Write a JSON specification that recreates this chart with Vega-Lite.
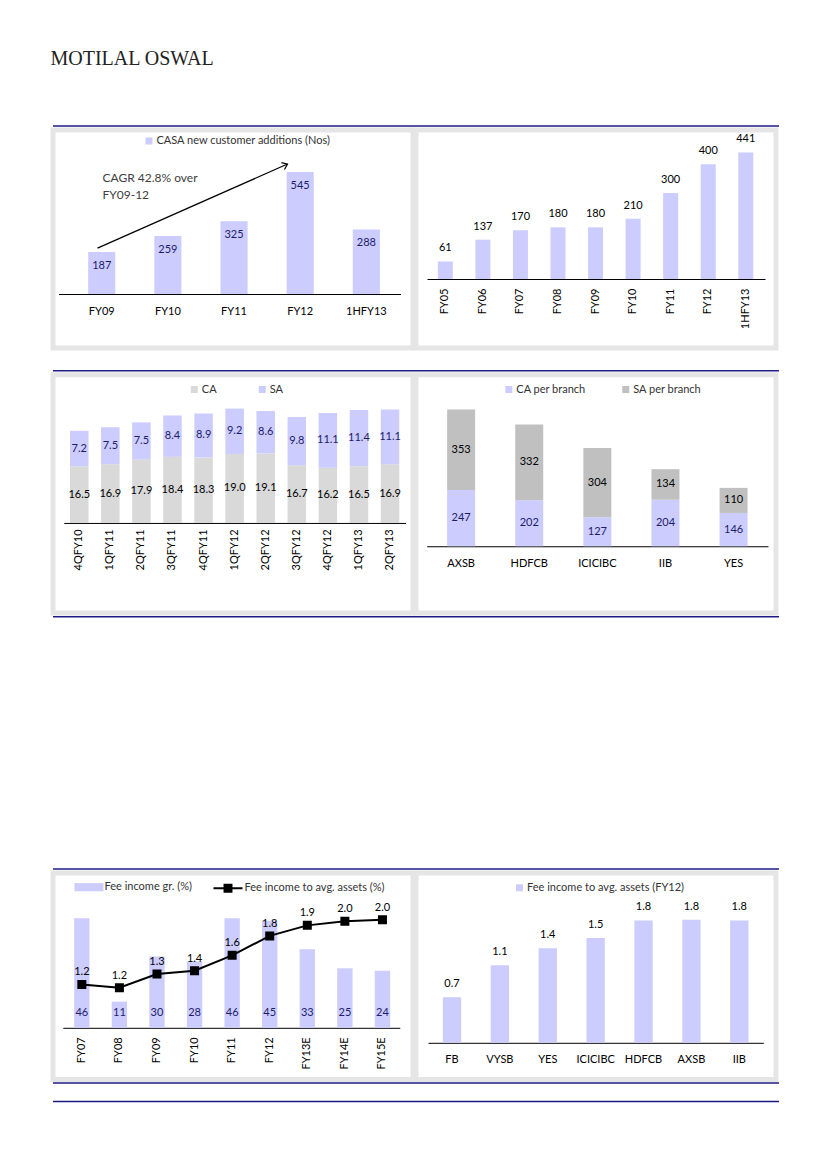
{
  "$schema": "https://vega.github.io/schema/vega-lite/v6.json",
  "background": "white",
  "padding": {"left": 50, "top": 49, "right": 0, "bottom": 0},
  "title": {"text": "MOTILAL OSWAL", "anchor": "start", "font": "Liberation Serif", "fontSize": 20, "fontWeight": "normal", "color": "#222222", "offset": 56},
  "config": {
    "font": "Lato",
    "view": {"fill": "#ffffff", "stroke": "#e5e5e5", "strokeWidth": 5},
    "axis": {"domainColor": "#000000", "domainWidth": 1, "ticks": false, "tickSize": 0, "grid": false, "labelFont": "Lato", "labelFontSize": 11, "labelColor": "#000000", "labelOverlap": false},
    "legend": {"labelFont": "Lato", "labelFontSize": 11, "labelColor": "#333333", "labelLimit": 0, "symbolType": "square", "symbolSize": 49, "symbolStrokeWidth": 0, "labelOffset": 2, "padding": 0, "rowPadding": 0, "titlePadding": 0},
    "text": {"font": "Lato"}
  },
  "resolve": {"scale": {"color": "independent", "stroke": "independent"}, "legend": {"color": "independent", "stroke": "independent"}},
  "spacing": 18.75,
  "vconcat": [
    {
      "spacing": 0,
      "resolve": {"scale": {"color": "independent", "stroke": "independent"}, "legend": {"color": "independent", "stroke": "independent"}},
      "vconcat": [
        {"width": 726, "height": 1, "view": {"fill": null, "stroke": null}, "data": {"values": [{"k": 1}]}, "mark": {"type": "rule", "color": "#1e1a85", "strokeWidth": 1.5}, "encoding": {"y": {"datum": 0, "scale": {"domain": [0, 1], "range": [0, 1], "nice": false}, "axis": null}}},
        {
          "spacing": -4,
          "resolve": {"scale": {"color": "independent", "stroke": "independent"}, "legend": {"color": "independent", "stroke": "independent"}},
          "hconcat": [
            {
              "width": 360, "height": 218,
              "layer": [
                {
                  "data": {"values": [
                    {"year": "FY09", "additions": 187},
                    {"year": "FY10", "additions": 259},
                    {"year": "FY11", "additions": 325},
                    {"year": "FY12", "additions": 545},
                    {"year": "1HFY13", "additions": 288}
                  ]},
                  "encoding": {
                    "x": {"field": "year", "type": "nominal", "sort": null, "scale": {"domain": ["FY09", "FY10", "FY11", "FY12", "1HFY13"], "range": [5.5, 347.5], "paddingInner": 0.59, "paddingOuter": 0.38, "align": 0.59}, "axis": {"title": null, "offset": -54, "labelAngle": 0, "labelPadding": 11}},
                    "y": {"field": "additions", "type": "quantitative", "scale": {"domain": [0, 732.1], "range": [164, 0], "nice": false}, "axis": null}
                  },
                  "layer": [
                    {"mark": {"type": "bar"}, "encoding": {"color": {"datum": "CASA new customer additions (Nos)", "scale": {"range": ["#ccccff"]}, "legend": {"orient": "none", "legendX": 90.5, "legendY": 5.5, "title": null}}}},
                    {"mark": {"type": "text", "baseline": "middle", "dy": 14, "color": "#1c1c6b", "fontSize": 11}, "encoding": {"text": {"field": "additions", "type": "quantitative"}}}
                  ]
                },
                {
                  "data": {"values": [{"k": 1}]},
                  "layer": [
                    {"mark": {"type": "rule", "color": "#000000", "strokeWidth": 1.2}, "encoding": {"x": {"datum": -0.063, "scale": {"domain": [-0.736, 4.706], "nice": false, "zero": false}, "axis": null}, "x2": {"datum": 2.809}, "y": {"datum": 205, "scale": {"domain": [0, 732.1], "range": [164, 0], "nice": false}, "axis": null}, "y2": {"datum": 580}}},
                    {"mark": {"type": "point", "shape": "M-1,-0.75L0,0L-1,0.75", "angle": -24, "size": 100, "filled": false, "color": "#000000", "strokeWidth": 1.2, "opacity": 1}, "encoding": {"x": {"datum": 2.809}, "y": {"datum": 580}}},
                    {"mark": {"type": "text", "align": "left", "baseline": "middle", "fontSize": 12, "color": "#404040"}, "encoding": {"x": {"datum": 0.012}, "y": {"datum": 518}, "text": {"value": "CAGR 42.8% over"}}},
                    {"mark": {"type": "text", "align": "left", "baseline": "middle", "fontSize": 12, "color": "#404040"}, "encoding": {"x": {"datum": 0.012}, "y": {"datum": 442}, "text": {"value": "FY09-12"}}}
                  ]
                }
              ],
              "resolve": {"scale": {"x": "independent", "y": "independent"}}
            },
            {
              "width": 360, "height": 218,
              "data": {"values": [
                {"year": "FY05", "customers": 61},
                {"year": "FY06", "customers": 137},
                {"year": "FY07", "customers": 170},
                {"year": "FY08", "customers": 180},
                {"year": "FY09", "customers": 180},
                {"year": "FY10", "customers": 210},
                {"year": "FY11", "customers": 300},
                {"year": "FY12", "customers": 400},
                {"year": "1HFY13", "customers": 441}
              ]},
              "encoding": {
                "x": {"field": "year", "type": "nominal", "sort": null, "scale": {"range": [11, 349], "paddingInner": 0.6, "paddingOuter": 0.3, "align": 0.48}, "axis": {"title": null, "offset": -69, "labelAngle": -90, "labelPadding": 9}},
                "y": {"field": "customers", "type": "quantitative", "scale": {"domain": [0, 519.2], "range": [149, 0], "nice": false}, "axis": null}
              },
              "layer": [
                {"mark": {"type": "bar", "color": "#ccccff"}},
                {"mark": {"type": "text", "baseline": "middle", "dy": -13, "color": "#000000", "fontSize": 11}, "encoding": {"text": {"field": "customers", "type": "quantitative"}}}
              ]
            }
          ]
        }
      ]
    },
    {
      "spacing": 250.25,
      "resolve": {"scale": {"color": "independent", "stroke": "independent"}, "legend": {"color": "independent", "stroke": "independent"}},
      "vconcat": [
        {
          "spacing": 0,
          "resolve": {"scale": {"color": "independent", "stroke": "independent"}, "legend": {"color": "independent", "stroke": "independent"}},
          "vconcat": [
            {"width": 726, "height": 1, "view": {"fill": null, "stroke": null}, "data": {"values": [{"k": 1}]}, "mark": {"type": "rule", "color": "#1e1a85", "strokeWidth": 1.5}, "encoding": {"y": {"datum": 0, "scale": {"domain": [0, 1], "range": [0, 1], "nice": false}, "axis": null}}},
            {
              "spacing": -4,
              "resolve": {"scale": {"color": "independent", "stroke": "independent"}, "legend": {"color": "independent", "stroke": "independent"}},
              "hconcat": [
                {
                  "width": 360, "height": 238.25,
                  "data": {"values": [
                    {"q": "4QFY10", "series": "CA", "value": 16.5}, {"q": "4QFY10", "series": "SA", "value": 7.2},
                    {"q": "1QFY11", "series": "CA", "value": 16.9}, {"q": "1QFY11", "series": "SA", "value": 7.5},
                    {"q": "2QFY11", "series": "CA", "value": 17.9}, {"q": "2QFY11", "series": "SA", "value": 7.5},
                    {"q": "3QFY11", "series": "CA", "value": 18.4}, {"q": "3QFY11", "series": "SA", "value": 8.4},
                    {"q": "4QFY11", "series": "CA", "value": 18.3}, {"q": "4QFY11", "series": "SA", "value": 8.9},
                    {"q": "1QFY12", "series": "CA", "value": 19.0}, {"q": "1QFY12", "series": "SA", "value": 9.2},
                    {"q": "2QFY12", "series": "CA", "value": 19.1}, {"q": "2QFY12", "series": "SA", "value": 8.6},
                    {"q": "3QFY12", "series": "CA", "value": 16.7}, {"q": "3QFY12", "series": "SA", "value": 9.8},
                    {"q": "4QFY12", "series": "CA", "value": 16.2}, {"q": "4QFY12", "series": "SA", "value": 11.1},
                    {"q": "1QFY13", "series": "CA", "value": 16.5}, {"q": "1QFY13", "series": "SA", "value": 11.4},
                    {"q": "2QFY13", "series": "CA", "value": 16.9}, {"q": "2QFY13", "series": "SA", "value": 11.1}
                  ]},
                  "encoding": {
                    "x": {"field": "q", "type": "nominal", "sort": null, "scale": {"domain": ["4QFY10", "1QFY11", "2QFY11", "3QFY11", "4QFY11", "1QFY12", "2QFY12", "3QFY12", "4QFY12", "1QFY13", "2QFY13"], "range": [10.8, 352.5], "paddingInner": 0.405, "paddingOuter": 0.2, "align": 0.5}, "axis": {"title": null, "offset": -90.05, "labelAngle": -90, "labelPadding": 6}}
                  },
                  "layer": [
                    {"mark": {"type": "bar"}, "encoding": {
                      "y": {"field": "value", "type": "quantitative", "stack": "zero", "scale": {"domain": [5, 35.06], "range": [148.2, 0], "clamp": true, "nice": false, "zero": false}, "axis": null},
                      "color": {"field": "series", "type": "nominal", "scale": {"domain": ["CA", "SA"], "range": ["#d9d9d9", "#ccccff"]}, "legend": {"orient": "none", "direction": "horizontal", "legendX": 135.8, "legendY": 9, "title": null, "columnPadding": 40}},
                      "order": {"field": "series", "sort": "ascending"}
                    }},
                    {"transform": [{"filter": {"field": "series", "equal": "CA"}}],
                     "mark": {"type": "text", "baseline": "middle", "color": "#000000", "fontSize": 11},
                     "encoding": {"y": {"field": "value", "type": "quantitative", "scale": {"domain": [5, 65.12], "range": [148.2, 0], "nice": false, "zero": false}, "axis": null}, "text": {"field": "value", "type": "quantitative", "format": ".1f"}}},
                    {"transform": [{"stack": "value", "groupby": ["q"], "sort": [{"field": "series", "order": "ascending"}], "as": ["v0", "v1"]}, {"filter": {"field": "series", "equal": "SA"}}, {"fold": ["v0", "v1"], "as": ["k", "pos"]}],
                     "mark": {"type": "text", "baseline": "middle", "color": "#1c1c6b", "fontSize": 11},
                     "encoding": {"y": {"aggregate": "mean", "field": "pos", "type": "quantitative", "scale": {"domain": [5, 35.06], "range": [148.2, 0], "nice": false, "zero": false}, "axis": null}, "text": {"field": "value", "type": "quantitative", "format": ".1f"}}}
                  ],
                  "resolve": {"scale": {"y": "independent"}}
                },
                {
                  "width": 360, "height": 238.25,
                  "data": {"values": [
                    {"bank": "AXSB", "series": "CA per branch", "value": 247}, {"bank": "AXSB", "series": "SA per branch", "value": 353},
                    {"bank": "HDFCB", "series": "CA per branch", "value": 202}, {"bank": "HDFCB", "series": "SA per branch", "value": 332},
                    {"bank": "ICICIBC", "series": "CA per branch", "value": 127}, {"bank": "ICICIBC", "series": "SA per branch", "value": 304},
                    {"bank": "IIB", "series": "CA per branch", "value": 204}, {"bank": "IIB", "series": "SA per branch", "value": 134},
                    {"bank": "YES", "series": "CA per branch", "value": 146}, {"bank": "YES", "series": "SA per branch", "value": 110}
                  ]},
                  "encoding": {
                    "x": {"field": "bank", "type": "nominal", "sort": null, "scale": {"domain": ["AXSB", "HDFCB", "ICICIBC", "IIB", "YES"], "range": [10.7, 352], "paddingInner": 0.589, "paddingOuter": 0.3, "align": 0.5}, "axis": {"title": null, "offset": -66.75, "labelAngle": 0, "labelPadding": 11}}
                  },
                  "layer": [
                    {"mark": {"type": "bar"}, "encoding": {
                      "y": {"field": "value", "type": "quantitative", "stack": "zero", "scale": {"domain": [0, 752.2], "range": [171.5, 0], "nice": false}, "axis": null},
                      "color": {"field": "series", "type": "nominal", "scale": {"domain": ["CA per branch", "SA per branch"], "range": ["#ccccff", "#c0c0c0"]}, "legend": {"orient": "none", "direction": "horizontal", "legendX": 87.3, "legendY": 9, "title": null, "columnPadding": 34}},
                      "order": {"field": "series", "sort": "ascending"}
                    }},
                    {"transform": [{"stack": "value", "groupby": ["bank"], "sort": [{"field": "series", "order": "ascending"}], "as": ["v0", "v1"]}, {"fold": ["v0", "v1"], "as": ["k", "pos"]}],
                     "mark": {"type": "text", "baseline": "middle", "fontSize": 11},
                     "encoding": {
                       "y": {"aggregate": "mean", "field": "pos", "type": "quantitative"},
                       "detail": {"field": "series", "type": "nominal"},
                       "text": {"field": "value", "type": "quantitative"},
                       "color": {"condition": {"test": "datum.series === 'CA per branch'", "value": "#1c1c6b"}, "value": "#000000"}
                     }}
                  ]
                }
              ]
            },
            {"width": 726, "height": 1, "view": {"fill": null, "stroke": null}, "data": {"values": [{"k": 1}]}, "mark": {"type": "rule", "color": "#1e1a85", "strokeWidth": 1.5}, "encoding": {"y": {"datum": 0, "scale": {"domain": [0, 1], "range": [0, 1], "nice": false}, "axis": null}}}
          ]
        },
        {
          "spacing": 16.5,
          "resolve": {"scale": {"color": "independent", "stroke": "independent"}, "legend": {"color": "independent", "stroke": "independent"}},
          "vconcat": [
            {
              "spacing": 0,
              "resolve": {"scale": {"color": "independent", "stroke": "independent"}, "legend": {"color": "independent", "stroke": "independent"}},
              "vconcat": [
                {"width": 726, "height": 1, "view": {"fill": null, "stroke": null}, "data": {"values": [{"k": 1}]}, "mark": {"type": "rule", "color": "#1e1a85", "strokeWidth": 1.5}, "encoding": {"y": {"datum": 0, "scale": {"domain": [0, 1], "range": [0, 1], "nice": false}, "axis": null}}},
                {
                  "spacing": -4,
                  "resolve": {"scale": {"color": "independent", "stroke": "independent"}, "legend": {"color": "independent", "stroke": "independent"}},
                  "hconcat": [
                    {
                      "width": 360, "height": 206.5,
                      "data": {"values": [
                        {"year": "FY07", "growth": 46, "ratio": 1.20},
                        {"year": "FY08", "growth": 11, "ratio": 1.16},
                        {"year": "FY09", "growth": 30, "ratio": 1.33},
                        {"year": "FY10", "growth": 28, "ratio": 1.37},
                        {"year": "FY11", "growth": 46, "ratio": 1.56},
                        {"year": "FY12", "growth": 45, "ratio": 1.80},
                        {"year": "FY13E", "growth": 33, "ratio": 1.93},
                        {"year": "FY14E", "growth": 25, "ratio": 1.98},
                        {"year": "FY15E", "growth": 24, "ratio": 2.00}
                      ]},
                      "encoding": {
                        "x": {"field": "year", "type": "nominal", "sort": null, "scale": {"domain": ["FY07", "FY08", "FY09", "FY10", "FY11", "FY12", "FY13E", "FY14E", "FY15E"], "range": [9.8, 346.8], "paddingInner": 0.592, "paddingOuter": 0.28, "align": 0.54}, "axis": {"title": null, "offset": -51.7, "labelAngle": -90, "labelPadding": 9}}
                      },
                      "layer": [
                        {"mark": {"type": "bar"}, "encoding": {
                          "y": {"field": "growth", "type": "quantitative", "scale": {"domain": [0, 65.04], "range": [154.8, 0], "nice": false}, "axis": null},
                          "color": {"datum": "Fee income gr. (%)", "scale": {"range": ["#ccccff"]}, "legend": {"orient": "none", "legendX": 21.5, "legendY": -0.3, "title": null, "symbolType": "M-1,-0.28H1V0.28H-1Z", "symbolSize": 841, "labelOffset": 1}}
                        }},
                        {"mark": {"type": "text", "baseline": "middle", "dy": -14.6, "color": "#1c1c6b", "fontSize": 11}, "encoding": {
                          "y": {"datum": 0, "scale": {"domain": [0, 65.04], "range": [154.8, 0], "nice": false}, "axis": null},
                          "text": {"field": "growth", "type": "quantitative"}
                        }},
                        {"mark": {"type": "line", "strokeWidth": 2, "point": {"shape": "square", "size": 49, "filled": true, "color": "#000000"}}, "encoding": {
                          "y": {"field": "ratio", "type": "quantitative", "scale": {"domain": [0.6654, 2.5765], "range": [154.8, 0], "nice": false, "zero": false}, "axis": null},
                          "stroke": {"datum": "Fee income to avg. assets (%)", "scale": {"range": ["#000000"]}, "legend": {"orient": "none", "legendX": 159.5, "legendY": -0.3, "title": null, "symbolType": "M-1,0H1M-0.24,-0.24H0.24V0.24H-0.24Z", "symbolSize": 841, "symbolStrokeWidth": 2, "symbolFillColor": "#000000", "symbolStrokeColor": "#000000", "labelOffset": 1}}
                        }},
                        {"mark": {"type": "text", "baseline": "middle", "dy": -12, "color": "#000000", "fontSize": 11}, "encoding": {
                          "y": {"field": "ratio", "type": "quantitative", "scale": {"domain": [0.6654, 2.5765], "range": [154.8, 0], "nice": false, "zero": false}, "axis": null},
                          "text": {"field": "ratio", "type": "quantitative", "format": ".1f"}
                        }}
                      ],
                      "resolve": {"scale": {"y": "independent"}}
                    },
                    {
                      "width": 360, "height": 206.5,
                      "data": {"values": [
                        {"bank": "FB", "ratio": 0.67},
                        {"bank": "VYSB", "ratio": 1.14},
                        {"bank": "YES", "ratio": 1.39},
                        {"bank": "ICICIBC", "ratio": 1.54},
                        {"bank": "HDFCB", "ratio": 1.80},
                        {"bank": "AXSB", "ratio": 1.81},
                        {"bank": "IIB", "ratio": 1.80}
                      ]},
                      "encoding": {
                        "x": {"field": "bank", "type": "nominal", "sort": null, "scale": {"domain": ["FB", "VYSB", "YES", "ICICIBC", "HDFCB", "AXSB", "IIB"], "range": [12, 347.3], "paddingInner": 0.617, "paddingOuter": 0.31, "align": 0.5}, "axis": {"title": null, "offset": -36.7, "labelAngle": 0, "labelPadding": 11}},
                        "y": {"field": "ratio", "type": "quantitative", "scale": {"domain": [0, 2.497], "range": [169.8, 0], "nice": false}, "axis": null}
                      },
                      "layer": [
                        {"mark": {"type": "bar"}, "encoding": {"color": {"datum": "Fee income to avg. assets (FY12)", "scale": {"range": ["#ccccff"]}, "legend": {"orient": "none", "legendX": 98, "legendY": 9.3, "title": null}}}},
                        {"mark": {"type": "text", "baseline": "middle", "dy": -13, "color": "#000000", "fontSize": 11}, "encoding": {"text": {"field": "ratio", "type": "quantitative", "format": ".1f"}}}
                      ]
                    }
                  ]
                },
                {"width": 726, "height": 1, "view": {"fill": null, "stroke": null}, "data": {"values": [{"k": 1}]}, "mark": {"type": "rule", "color": "#1e1a85", "strokeWidth": 1.5}, "encoding": {"y": {"datum": 0, "scale": {"domain": [0, 1], "range": [0, 1], "nice": false}, "axis": null}}}
              ]
            },
            {"width": 726, "height": 1, "view": {"fill": null, "stroke": null}, "data": {"values": [{"k": 1}]}, "mark": {"type": "rule", "color": "#1e1a85", "strokeWidth": 1.5}, "encoding": {"y": {"datum": 0, "scale": {"domain": [0, 1], "range": [0, 1], "nice": false}, "axis": null}}}
          ]
        }
      ]
    }
  ]
}
